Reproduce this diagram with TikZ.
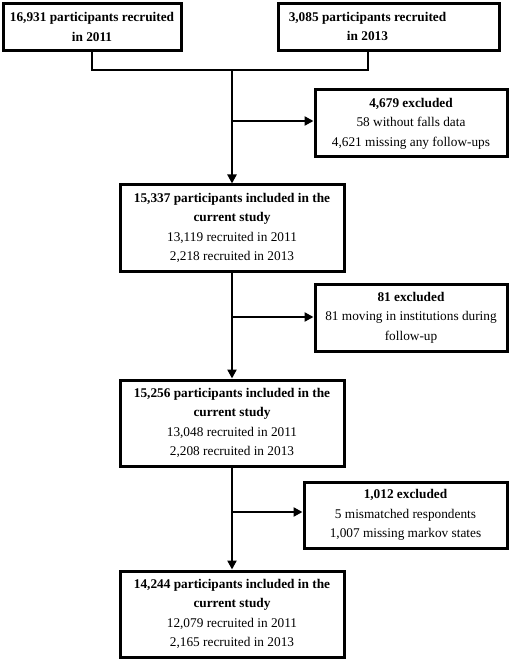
\documentclass[tikz,border=0pt]{standalone}
\usepackage{fontspec}
\setmainfont{Liberation Serif}
\usetikzlibrary{arrows.meta}
\tikzset{
  box/.style={draw=black, line width=3pt, fill=white, align=center, inner sep=0pt,
    font=\fontsize{13.3}{19.5}\selectfont},
  conn/.style={line width=2.6pt, draw=black},
  arr/.style={conn, -{Triangle[length=9pt,width=9pt]}},
}
\begin{document}
\begin{tikzpicture}[x=1pt,y=-1pt]
\fill[white] (0,0) rectangle (510,660);
\useasboundingbox (0,0) rectangle (510,660);

\node[box, minimum width=178pt, minimum height=47pt] (A) at (92,27)
  {\textbf{16,931 participants recruited}\\ \textbf{in 2011}};
\node[box, minimum width=221pt, minimum height=47pt] (B) at (388.5,27)
  {\begin{tabular}{@{}c@{}}\textbf{3,085 participants recruited}\\[-1pt] \textbf{in 2013}\end{tabular}\hspace*{42pt}};

\node[box, minimum width=192pt, minimum height=67pt] (C) at (411,123.5)
  {\textbf{4,679 excluded}\\ 58 without falls data\\ 4,621 missing any follow-ups};

\node[box, minimum width=224pt, minimum height=86pt] (D) at (232,228)
  {\textbf{15,337 participants included in the}\\ \textbf{current study}\\ 13,119 recruited in 2011\\ 2,218 recruited in 2013};

\node[box, minimum width=192pt, minimum height=67pt] (E) at (411,317.5)
  {\textbf{81 excluded}\\ 81 moving in institutions during\\ follow-up};

\node[box, minimum width=224pt, minimum height=86pt] (F) at (232,423)
  {\textbf{15,256 participants included in the}\\ \textbf{current study}\\ 13,048 recruited in 2011\\ 2,208 recruited in 2013};

\node[box, minimum width=203pt, minimum height=66pt] (G) at (405.5,515)
  {\textbf{1,012 excluded}\\ 5 mismatched respondents\\ 1,007 missing markov states};

\node[box, minimum width=224pt, minimum height=86pt] (H) at (232,614)
  {\textbf{14,244 participants included in the}\\ \textbf{current study}\\ 12,079 recruited in 2011\\ 2,165 recruited in 2013};

\coordinate (j) at (232,70);
\coordinate (bj) at (368,70);
\coordinate (c1) at (232,121);
\coordinate (e1) at (232,317);
\coordinate (g1) at (232,512);

\draw[conn] (A.south) |- (j) -- (bj) -- (bj |- B.south);
\draw[arr] (j) -- (D.north);
\draw[arr] (c1) -- (c1 -| C.west);
\draw[arr] (D.south) -- (F.north);
\draw[arr] (e1) -- (e1 -| E.west);
\draw[arr] (F.south) -- (H.north);
\draw[arr] (g1) -- (g1 -| G.west);
\end{tikzpicture}
\end{document}
